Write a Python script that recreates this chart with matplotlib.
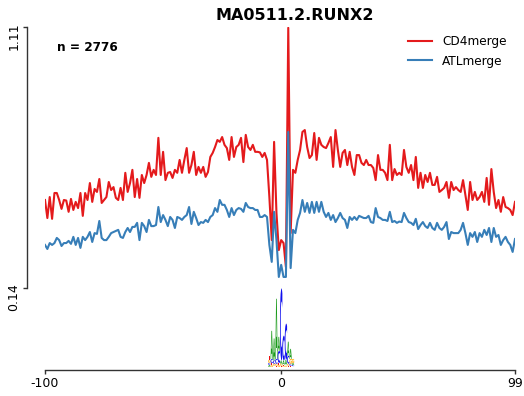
import matplotlib
matplotlib.use("Agg")
import matplotlib.pyplot as plt
from matplotlib.textpath import TextPath
from matplotlib.patches import PathPatch
from matplotlib.font_manager import FontProperties
import matplotlib.transforms as mtransforms

title = "MA0511.2.RUNX2"
n_label = "n = 2776"
series_names = ["CD4merge", "ATLmerge"]
positions = list(range(-100, 100))
x_ticks = [-100, 0, 99]
y_ticks = [0.14, 1.11]

cd4_left = [0.467, 0.400, 0.478, 0.397, 0.493, 0.493, 0.467, 0.434, 0.467, 0.465,
            0.423, 0.471, 0.430, 0.460, 0.437, 0.493, 0.408, 0.493, 0.467, 0.530,
            0.460, 0.508, 0.497, 0.545, 0.456, 0.467, 0.478, 0.534, 0.504, 0.515,
            0.475, 0.467, 0.512, 0.467, 0.568, 0.497, 0.530, 0.579, 0.478, 0.545,
            0.475, 0.560, 0.530, 0.560, 0.605, 0.553, 0.579, 0.560, 0.698, 0.560,
            0.646, 0.541, 0.568, 0.571, 0.549, 0.579, 0.568, 0.616, 0.568, 0.616,
            0.660, 0.568, 0.597, 0.646, 0.560, 0.590, 0.568, 0.590, 0.553, 0.571,
            0.627, 0.642, 0.664, 0.690, 0.683, 0.701, 0.672, 0.660, 0.616, 0.701,
            0.627, 0.664, 0.672, 0.698, 0.608, 0.709, 0.664, 0.653, 0.672, 0.646]
cd4_center = [0.646, 0.644, 0.627, 0.642, 0.616, 0.478, 0.318, 0.683, 0.419, 0.281,
              0.318, 0.307, 0.218, 1.107]
cd4_right = [0.344, 0.579, 0.568, 0.616, 0.653, 0.720, 0.727, 0.664, 0.623, 0.634,
             0.716, 0.616, 0.698, 0.672, 0.664, 0.660, 0.679, 0.701, 0.590, 0.727,
             0.653, 0.590, 0.642, 0.653, 0.597, 0.646, 0.590, 0.560, 0.634, 0.634,
             0.605, 0.597, 0.616, 0.597, 0.597, 0.586, 0.541, 0.634, 0.579, 0.579,
             0.568, 0.541, 0.672, 0.541, 0.582, 0.560, 0.568, 0.560, 0.653, 0.590,
             0.568, 0.597, 0.541, 0.627, 0.512, 0.568, 0.512, 0.560, 0.534, 0.568,
             0.523, 0.523, 0.553, 0.497, 0.504, 0.512, 0.534, 0.475, 0.534, 0.504,
             0.515, 0.504, 0.497, 0.541, 0.486, 0.430, 0.534, 0.467, 0.497, 0.467,
             0.478, 0.497, 0.460, 0.549, 0.449, 0.582, 0.497, 0.437, 0.467, 0.423,
             0.478, 0.441, 0.437, 0.430, 0.411, 0.460]

atl_left = [0.300, 0.285, 0.307, 0.300, 0.307, 0.326, 0.318, 0.296, 0.307, 0.307,
            0.315, 0.304, 0.330, 0.300, 0.326, 0.289, 0.330, 0.318, 0.330, 0.348,
            0.311, 0.344, 0.341, 0.389, 0.326, 0.318, 0.318, 0.330, 0.344, 0.348,
            0.352, 0.356, 0.330, 0.326, 0.348, 0.363, 0.348, 0.367, 0.367, 0.382,
            0.318, 0.382, 0.370, 0.348, 0.393, 0.370, 0.370, 0.374, 0.441, 0.385,
            0.411, 0.393, 0.370, 0.404, 0.393, 0.363, 0.404, 0.400, 0.393, 0.404,
            0.411, 0.441, 0.378, 0.423, 0.400, 0.374, 0.385, 0.382, 0.393, 0.385,
            0.404, 0.411, 0.437, 0.423, 0.467, 0.449, 0.449, 0.430, 0.404, 0.437,
            0.411, 0.430, 0.437, 0.434, 0.423, 0.456, 0.441, 0.437, 0.437, 0.430]
atl_center = [0.430, 0.404, 0.404, 0.411, 0.404, 0.300, 0.237, 0.423, 0.318, 0.181,
              0.226, 0.181, 0.181, 0.720]
atl_right = [0.214, 0.356, 0.344, 0.393, 0.419, 0.467, 0.423, 0.456, 0.419, 0.460,
             0.419, 0.460, 0.423, 0.460, 0.423, 0.404, 0.419, 0.393, 0.411, 0.385,
             0.400, 0.419, 0.400, 0.393, 0.363, 0.404, 0.393, 0.404, 0.393, 0.408,
             0.404, 0.400, 0.400, 0.408, 0.385, 0.382, 0.437, 0.404, 0.400, 0.393,
             0.393, 0.389, 0.423, 0.385, 0.389, 0.382, 0.387, 0.385, 0.419, 0.400,
             0.385, 0.382, 0.374, 0.397, 0.359, 0.374, 0.385, 0.370, 0.363, 0.382,
             0.363, 0.356, 0.382, 0.363, 0.356, 0.367, 0.385, 0.322, 0.348, 0.344,
             0.344, 0.344, 0.356, 0.382, 0.344, 0.300, 0.344, 0.330, 0.348, 0.311,
             0.344, 0.330, 0.356, 0.337, 0.363, 0.311, 0.363, 0.330, 0.337, 0.300,
             0.318, 0.330, 0.311, 0.300, 0.274, 0.322]

cd4_values = cd4_left + cd4_center + cd4_right
atl_values = atl_left + atl_center + atl_right

# sequence logo (motif information per letter, in bits)
logo_pos = [-5, -4, -3, -2, -1, 0, 1, 2, 3, 4, 5]
logo_A = [0.05, 0.70, 0.55, 1.50, 0.35, 0.08, 0.10, 0.12, 0.35, 0.25, 0.05]
logo_C = [0.05, 0.10, 0.08, 0.12, 0.30, 1.80, 0.62, 0.90, 0.20, 0.05, 0.03]
logo_G = [0.08, 0.05, 0.05, 0.05, 0.05, 0.05, 0.03, 0.03, 0.05, 0.12, 0.10]
logo_T = [0.10, 0.05, 0.03, 0.03, 0.05, 0.03, 0.03, 0.03, 0.03, 0.03, 0.02]

red = "#e41a1c"
blue = "#377eb8"
letter_colors = {"A": "#1a9a1a", "C": "#1010ee", "G": "#ffa500", "T": "#ee1010"}

W, H = 524, 396
PT = 72 / 100  # points per pixel
fig = plt.figure(figsize=(W / 100, H / 100), dpi=100)
ax = fig.add_axes([45 / W, 1 - 368 / H, 470 / W, (368 - 27) / H])

ax.plot(positions, cd4_values, color=red, lw=1.5, label=series_names[0])
ax.plot(positions, atl_values, color=blue, lw=1.5, label=series_names[1])

ymin = 0.14 - 80 / 269
ax.set_xlim(-100, 99)
ax.set_ylim(ymin, 1.11)

# logo
fp = FontProperties(family="DejaVu Sans", weight="bold")
bit_scale = 0.149
base = ymin + 0.004
def draw_letter(letter, x, y, w, h, color):
    tp = TextPath((0, 0), letter, size=1, prop=fp)
    bb = tp.get_extents()
    t = (mtransforms.Affine2D().translate(-bb.x0, -bb.y0)
         .scale(w / bb.width, h / bb.height).translate(x - w / 2, y))
    ax.add_patch(PathPatch(t.transform_path(tp), facecolor=color,
                           edgecolor="none", lw=0))

for i, p in enumerate(logo_pos):
    stack = [("A", logo_A[i]), ("C", logo_C[i]), ("G", logo_G[i]), ("T", logo_T[i])]
    stack.sort(key=lambda s: s[1])
    y = base
    for letter, bits in stack:
        h = bits * bit_scale
        draw_letter(letter, p, y, 1.0, h, letter_colors[letter])
        y += h

for s in ["top", "right"]:
    ax.spines[s].set_visible(False)
ax.spines["left"].set_position(("outward", 18 * PT))
ax.spines["bottom"].set_position(("outward", 2 * PT))
ax.spines["left"].set_bounds(0.14, 1.11)
ax.spines["bottom"].set_bounds(-100, 99)
for s in ["left", "bottom"]:
    ax.spines[s].set_color("#333333")
    ax.spines[s].set_linewidth(1.0)

ax.set_xticks(x_ticks)
ax.set_xticklabels([str(v) for v in x_ticks], fontsize=9)
ax.set_yticks(y_ticks)
ax.set_yticklabels([f"{v:.2f}" for v in y_ticks], fontsize=9, rotation=90, va="center")
ax.tick_params(length=4 * PT, width=1, color="#333333", pad=2)
shift = mtransforms.ScaledTranslation(0, -9 / 100, fig.dpi_scale_trans)
for lab in ax.get_yticklabels():
    lab.set_transform(lab.get_transform() + shift)

fig.text(295 / W, 1 - 15 / H, title, fontsize=11.5, fontweight="bold",
         ha="center", va="center")
ax.text(0.026, 0.94, n_label, transform=ax.transAxes, fontsize=8.7,
        fontweight="bold", va="center", ha="left")
ax.legend(loc="upper right", frameon=False, fontsize=8.7, handlelength=2.0,
          bbox_to_anchor=(1.0, 1.0), borderaxespad=0.3)

fig.savefig("out.png", dpi=100)
